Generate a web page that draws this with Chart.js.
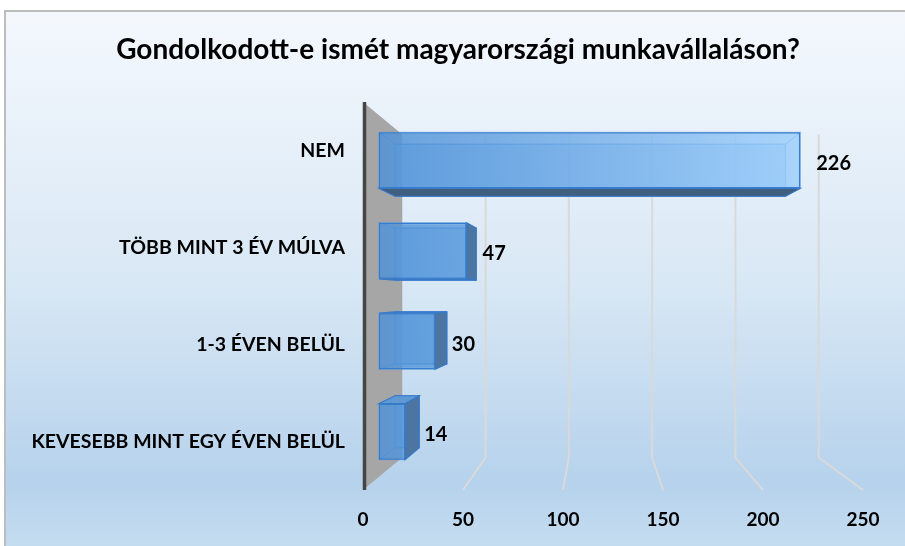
<!DOCTYPE html>
<html><head><meta charset="utf-8">
<script src="https://cdn.jsdelivr.net/npm/chart.js@4"></script>
<style>html,body{margin:0;padding:0;background:#fff;}canvas{display:block;}</style>
</head><body>
<canvas id="c" width="905" height="546"></canvas>
<script>
// ---- data ----
const titleText = 'Gondolkodott-e ismét magyarországi munkavállaláson?';
const categories = ['NEM', 'TÖBB MINT 3 ÉV MÚLVA', '1-3 ÉVEN BELÜL', 'KEVESEBB MINT EGY ÉVEN BELÜL'];
const values = [226, 47, 30, 14];
const xTicks = [0, 50, 100, 150, 200, 250];

// ---- 3D look (style only) ----
const S_FRONT = 0.932, S_BACK = 0.864, S_WALL = 0.833;
let VP = {x: 0, y: 0};
function proj(px, py, s) { return {x: VP.x + (px - VP.x) * s, y: VP.y + (py - VP.y) * s}; }
function poly(ctx, pts, fill, stroke, lw) {
  ctx.beginPath();
  ctx.moveTo(pts[0].x, pts[0].y);
  for (let i = 1; i < pts.length; i++) ctx.lineTo(pts[i].x, pts[i].y);
  ctx.closePath();
  if (fill) { ctx.fillStyle = fill; ctx.fill(); }
  if (stroke) { ctx.strokeStyle = stroke; ctx.lineWidth = lw || 1; ctx.stroke(); }
}

const bgPlugin = {
  id: 'bg',
  beforeDraw(chart) {
    const ctx = chart.ctx, W = chart.width, H = chart.height;
    ctx.save();
    ctx.fillStyle = '#ffffff';
    ctx.fillRect(0, 0, W, H);
    const g = ctx.createLinearGradient(0, 10, 0, H);
    g.addColorStop(0, '#f4f8fd');
    g.addColorStop(0.5, '#d9e8f5');
    g.addColorStop(0.88, '#b6d2ec');
    g.addColorStop(1, '#c4dcf0');
    ctx.fillStyle = g;
    ctx.fillRect(5, 10, W - 5, H - 10);
    ctx.strokeStyle = '#bdbdbd';
    ctx.lineWidth = 2;
    ctx.beginPath();
    ctx.moveTo(5, H); ctx.lineTo(5, 11); ctx.lineTo(W, 11);
    ctx.stroke();
    ctx.restore();
  }
};

const depthPlugin = {
  id: 'depth',
  beforeDatasetsDraw(chart) {
    const ctx = chart.ctx, a = chart.chartArea, xs = chart.scales.x;
    VP = {x: a.left + (a.right - a.left) * 0.47, y: (a.top + a.bottom) / 2};
    ctx.save();
    // gridlines on back wall + floor
    ctx.strokeStyle = '#d9d9d9';
    ctx.lineWidth = 2;
    xTicks.forEach(v => {
      if (v === 0) return;
      const fx = xs.getPixelForValue(v);
      const bt = proj(fx, a.top, S_WALL), bb = proj(fx, a.bottom, S_WALL);
      ctx.beginPath();
      ctx.moveTo(bt.x, bt.y); ctx.lineTo(bb.x, bb.y); ctx.lineTo(fx, a.bottom);
      ctx.stroke();
    });
    // side wall
    const x0 = xs.getPixelForValue(0);
    const wt = proj(x0, a.top, S_WALL), wb = proj(x0, a.bottom, S_WALL);
    poly(ctx, [{x: x0, y: a.top}, wt, wb, {x: x0, y: a.bottom}], '#a6a6a6', null);
    ctx.strokeStyle = '#454545';
    ctx.lineWidth = 3.5;
    ctx.beginPath(); ctx.moveTo(x0 + 1.5, a.top); ctx.lineTo(x0 + 1.5, a.bottom); ctx.stroke();

    // bar depth faces
    const meta = chart.getDatasetMeta(0);
    const edge = 'rgba(55,120,200,0.95)';
    meta.data.forEach(bar => {
      const p = bar.getProps(['x', 'y', 'base', 'height'], true);
      const L = Math.min(p.base, p.x), R = Math.max(p.base, p.x), T = p.y - p.height / 2, B = p.y + p.height / 2;
      const f = [proj(L, T, S_FRONT), proj(R, T, S_FRONT), proj(R, B, S_FRONT), proj(L, B, S_FRONT)];
      const b = [proj(L, T, S_BACK), proj(R, T, S_BACK), proj(R, B, S_BACK), proj(L, B, S_BACK)];
      // back face (seen through the translucent front)
      poly(ctx, b, 'rgba(110,172,235,0.55)', 'rgba(60,130,210,0.9)', 1.2);
      const faces = [
        {pts: [f[0], b[0], b[3], f[3]], vis: b[0].x < f[0].x, col: '#5a88b8'},
        {pts: [f[1], b[1], b[2], f[2]], vis: b[1].x > f[1].x, col: '#4c75a1'},
        {pts: [f[0], f[1], b[1], b[0]], vis: b[0].y < f[0].y, col: '#5f99d4'},
        {pts: [f[3], f[2], b[2], b[3]], vis: b[3].y > f[3].y, col: '#405f7f'}
      ];
      faces.filter(fc => !fc.vis).forEach(fc => poly(ctx, fc.pts, null, 'rgba(80,150,220,0.8)', 1));
      faces.filter(fc => fc.vis).forEach(fc => poly(ctx, fc.pts, fc.col, edge, 1.2));
    });
    ctx.restore();
    // library draws the front faces at the front depth of the boxes
    ctx.save();
    ctx.translate(VP.x, VP.y);
    ctx.scale(S_FRONT, S_FRONT);
    ctx.translate(-VP.x, -VP.y);
  },
  afterDatasetsDraw(chart) {
    const ctx = chart.ctx;
    ctx.restore();
    ctx.save();
    ctx.fillStyle = '#000';
    ctx.font = 'bold 20px Lato';
    ctx.textAlign = 'left';
    ctx.textBaseline = 'middle';
    const meta = chart.getDatasetMeta(0);
    meta.data.forEach((bar, i) => {
      const p = bar.getProps(['x', 'y', 'base', 'height'], true);
      const R = Math.max(p.base, p.x);
      const fR = proj(R, p.y, S_FRONT), bR = proj(R, p.y, S_BACK);
      const lx = Math.max(fR.x + 16, bR.x + 5);
      ctx.fillText(String(values[i]), lx, fR.y + 3);
    });
    ctx.restore();
  }
};

new Chart(document.getElementById('c').getContext('2d'), {
  type: 'bar',
  data: {
    labels: categories,
    datasets: [{
      data: values,
      backgroundColor(c) {
        const ch = c.chart, a = ch.chartArea;
        if (!a) return 'rgba(90,155,220,0.85)';
        const g = ch.ctx.createLinearGradient(a.left, 0, a.right, 0);
        g.addColorStop(0, 'rgba(80,146,215,0.84)');
        g.addColorStop(1, 'rgba(168,214,255,0.86)');
        return g;
      },
      borderColor: 'rgba(55,125,205,1)',
      borderWidth: 1.6,
      borderSkipped: false,
      barPercentage: 0.62,
      categoryPercentage: 1
    }]
  },
  options: {
    responsive: false,
    animation: false,
    indexAxis: 'y',
    layout: {padding: {left: 11, right: 0, top: 0, bottom: 0}},
    plugins: {
      legend: {display: false},
      tooltip: {enabled: false},
      title: {
        display: true, text: titleText, color: '#000',
        font: {family: 'Lato', size: 28, weight: 'bold', lineHeight: 1.2},
        padding: {top: 33, bottom: 35.4}
      }
    },
    scales: {
      x: {
        min: 0, max: 250,
        afterBuildTicks(s) { s.ticks = xTicks.map(v => ({value: v})); },
        ticks: {color: '#000', font: {family: 'Lato', size: 19, weight: 'bold'}, padding: 18},
        grid: {display: false, drawTicks: false, tickLength: 0},
        border: {display: false},
        afterFit(s) { s.height = 56; }
      },
      y: {
        ticks: {color: '#000', font: {family: 'Lato', size: 19.5, weight: 'bold'}, padding: 18},
        grid: {display: false, drawTicks: false, tickLength: 0},
        border: {display: false},
        afterFit(s) { s.width = 352; }
      },
      yr: {
        type: 'category', position: 'right', display: true,
        ticks: {display: false},
        grid: {display: false, drawTicks: false, tickLength: 0},
        border: {display: false},
        afterFit(s) { s.width = 42; }
      }
    }
  },
  plugins: [bgPlugin, depthPlugin]
});
</script>
</body></html>
